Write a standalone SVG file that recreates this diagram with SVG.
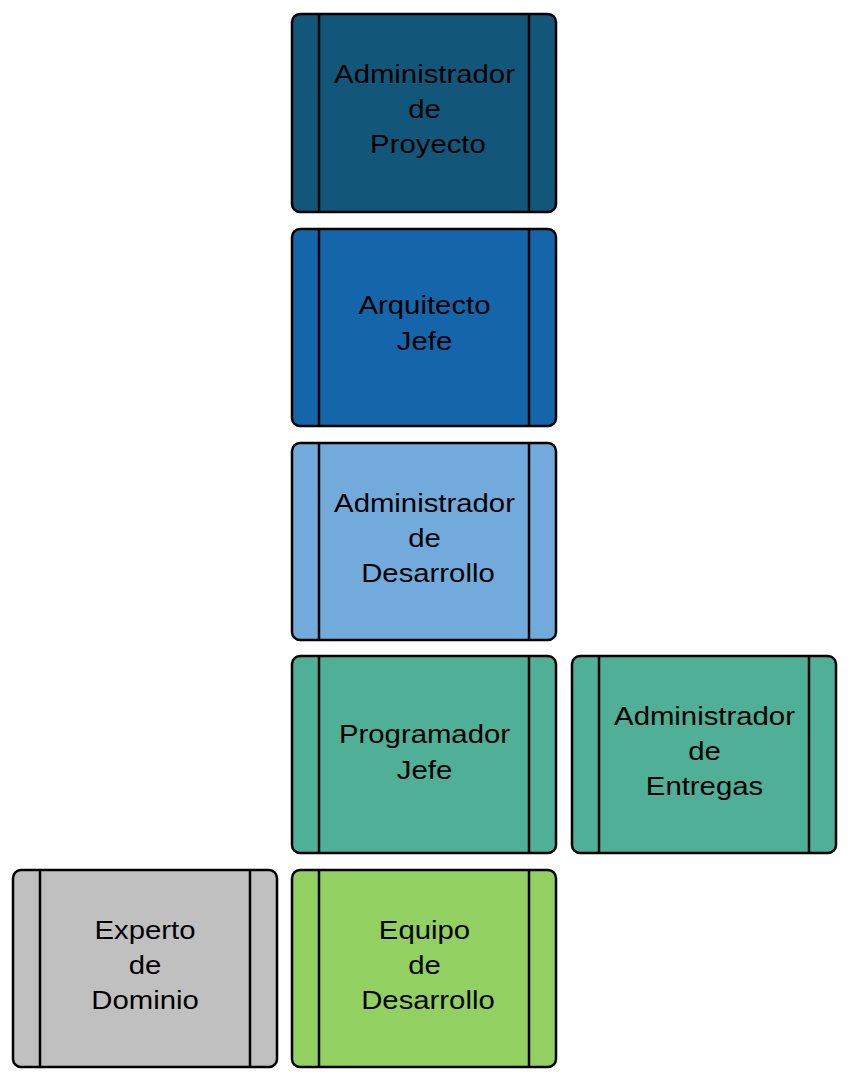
<svg xmlns="http://www.w3.org/2000/svg" width="851" height="1090" viewBox="0 0 851 1090">
<style>
.box{stroke:#000;stroke-width:2.5}
.div{stroke:#000;stroke-width:2.5}
.t{font-family:"Liberation Sans",Arial,sans-serif;font-size:25.5px;fill:#000;text-anchor:middle}
</style>
<rect width="851" height="1090" fill="#fff"/>
<g id="connectors"/>
<g id="admin-proyecto">
<rect class="box" x="292" y="14" width="264" height="198" rx="8" fill="#12577a"/>
<line class="div" x1="319" y1="14" x2="319" y2="212"/><line class="div" x1="529" y1="14" x2="529" y2="212"/>
<g transform="translate(424.5,0) scale(1.15,1)"><text class="t" x="0" y="83">Administrador</text><text class="t" x="0" y="118">de</text><text class="t" x="3" y="153">Proyecto</text></g>
</g>
<g id="arquitecto-jefe">
<rect class="box" x="292" y="229" width="264" height="197" rx="8" fill="#1565aa"/>
<line class="div" x1="319" y1="229" x2="319" y2="426"/><line class="div" x1="529" y1="229" x2="529" y2="426"/>
<g transform="translate(424.5,0) scale(1.15,1)"><text class="t" x="0" y="314">Arquitecto</text><text class="t" x="0" y="350">Jefe</text></g>
</g>
<g id="admin-desarrollo">
<rect class="box" x="292" y="443" width="264" height="197" rx="8" fill="#72aadc"/>
<line class="div" x1="319" y1="443" x2="319" y2="640"/><line class="div" x1="529" y1="443" x2="529" y2="640"/>
<g transform="translate(424.5,0) scale(1.15,1)"><text class="t" x="0" y="512">Administrador</text><text class="t" x="0" y="547">de</text><text class="t" x="3" y="582">Desarrollo</text></g>
</g>
<g id="programador-jefe">
<rect class="box" x="292" y="656" width="264" height="197" rx="8" fill="#4faf97"/>
<line class="div" x1="319" y1="656" x2="319" y2="853"/><line class="div" x1="529" y1="656" x2="529" y2="853"/>
<g transform="translate(424.5,0) scale(1.15,1)"><text class="t" x="0" y="743">Programador</text><text class="t" x="0" y="779">Jefe</text></g>
</g>
<g id="admin-entregas">
<rect class="box" x="572" y="656" width="264" height="197" rx="8" fill="#4faf97"/>
<line class="div" x1="599" y1="656" x2="599" y2="853"/><line class="div" x1="809" y1="656" x2="809" y2="853"/>
<g transform="translate(704.5,0) scale(1.15,1)"><text class="t" x="0" y="725">Administrador</text><text class="t" x="0" y="760">de</text><text class="t" x="0" y="795">Entregas</text></g>
</g>
<g id="experto-dominio">
<rect class="box" x="13" y="870" width="264" height="197" rx="8" fill="#c0c0c0"/>
<line class="div" x1="40" y1="870" x2="40" y2="1067"/><line class="div" x1="250" y1="870" x2="250" y2="1067"/>
<g transform="translate(145,0) scale(1.15,1)"><text class="t" x="0" y="939">Experto</text><text class="t" x="0" y="974">de</text><text class="t" x="0" y="1009">Dominio</text></g>
</g>
<g id="equipo-desarrollo">
<rect class="box" x="292" y="870" width="264" height="197" rx="8" fill="#92d161"/>
<line class="div" x1="319" y1="870" x2="319" y2="1067"/><line class="div" x1="529" y1="870" x2="529" y2="1067"/>
<g transform="translate(424.5,0) scale(1.15,1)"><text class="t" x="0" y="939">Equipo</text><text class="t" x="0" y="974">de</text><text class="t" x="3" y="1009">Desarrollo</text></g>
</g>
</svg>
